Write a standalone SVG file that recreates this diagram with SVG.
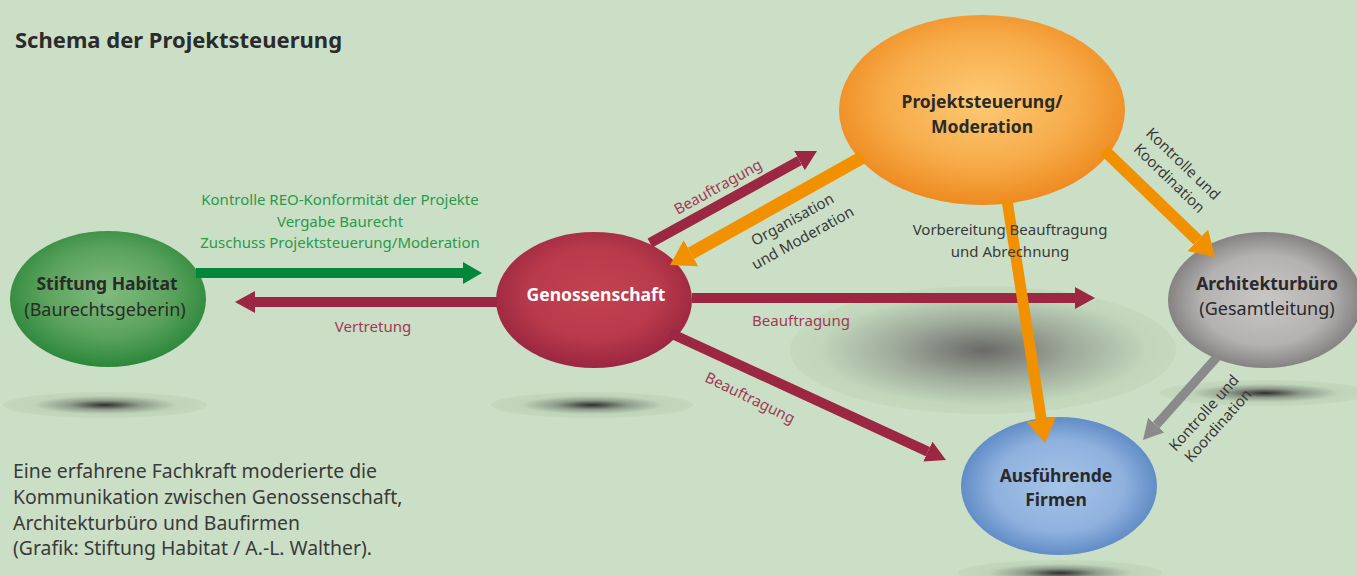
<svg xmlns="http://www.w3.org/2000/svg" width="1357" height="576" viewBox="0 0 1357 576">
<defs>
<style>
text{font-family:"Noto Sans","Liberation Sans",Arial,sans-serif;}
.title{font-size:22px;font-weight:bold;fill:#2b2b2b;}
.body{font-size:19.4px;fill:#3a3a3a;}
.nb{font-size:17.5px;font-weight:bold;fill:#2a2a2a;text-anchor:middle;}
.nr{font-size:18px;fill:#2a2a2a;text-anchor:middle;}
.lbl{font-size:15px;fill:#3a3a3a;text-anchor:middle;}
.lm{font-size:15px;fill:#a13a55;text-anchor:middle;}
.lg{font-size:15px;fill:#2a9a4a;text-anchor:middle;}
.c-m{stroke:#9b2743;stroke-width:10;fill:none;}
.c-g{stroke:#00873a;stroke-width:10;fill:none;}
.c-o{stroke:#f29100;stroke-width:12;fill:none;}
.c-y{stroke:#8a8a8a;stroke-width:9;fill:none;}
</style>
<radialGradient id="gGreen" cx="50%" cy="45%" r="55%"><stop offset="0" stop-color="#80bb7f"/><stop offset="0.6" stop-color="#5aa25c"/><stop offset="1" stop-color="#2c873a"/></radialGradient>
<radialGradient id="gRed" cx="50%" cy="45%" r="55%"><stop offset="0" stop-color="#c2424f"/><stop offset="0.6" stop-color="#b93a4b"/><stop offset="1" stop-color="#9a2640"/></radialGradient>
<radialGradient id="gOrange" cx="50%" cy="45%" r="55%"><stop offset="0" stop-color="#fdca76"/><stop offset="0.6" stop-color="#f7ac4a"/><stop offset="1" stop-color="#ee8a20"/></radialGradient>
<radialGradient id="gGray" cx="50%" cy="50%" r="55%"><stop offset="0" stop-color="#c8c7c6"/><stop offset="0.6" stop-color="#b3b2b1"/><stop offset="1" stop-color="#787675"/></radialGradient>
<radialGradient id="gBlue" cx="50%" cy="50%" r="55%"><stop offset="0" stop-color="#a6c4e8"/><stop offset="0.6" stop-color="#8fb1de"/><stop offset="1" stop-color="#5582c0"/></radialGradient>
<radialGradient id="gShadow" cx="50%" cy="50%" r="50%"><stop offset="0" stop-color="#2e2e2e"/><stop offset="0.35" stop-color="#8e9c8b"/><stop offset="0.7" stop-color="#bfd4b9"/><stop offset="1" stop-color="#c3d8bd"/></radialGradient>
<radialGradient id="gBig" cx="50%" cy="50%" r="50%"><stop offset="0" stop-color="#6a6a67"/><stop offset="0.45" stop-color="#9ea99a"/><stop offset="0.85" stop-color="#c1d6bb"/><stop offset="1" stop-color="#c4d9be"/></radialGradient>
<marker id="aM" markerUnits="userSpaceOnUse" markerWidth="20" markerHeight="22" viewBox="0 0 20 22" refX="0" refY="11" orient="auto"><path d="M0,0 L20,11 L0,22 z" fill="#9b2743"/></marker>
<marker id="aG" markerUnits="userSpaceOnUse" markerWidth="19" markerHeight="22" viewBox="0 0 19 22" refX="0" refY="11" orient="auto"><path d="M0,0 L19,11 L0,22 z" fill="#00873a"/></marker>
<marker id="aO" markerUnits="userSpaceOnUse" markerWidth="24" markerHeight="30" viewBox="0 0 24 30" refX="0" refY="15" orient="auto"><path d="M0,0 L24,15 L0,30 z" fill="#f29100"/></marker>
<marker id="aY" markerUnits="userSpaceOnUse" markerWidth="20" markerHeight="22" viewBox="0 0 20 22" refX="0" refY="11" orient="auto"><path d="M0,0 L20,11 L0,22 z" fill="#8a8a8a"/></marker>
</defs>
<rect width="1357" height="576" fill="#cbdfc6"/>
<text class="title" x="15" y="48">Schema der Projektsteuerung</text>
<g id="shadows">
<ellipse cx="983" cy="350" rx="193" ry="64" fill="url(#gBig)"/>
<ellipse cx="105" cy="405" rx="102" ry="13" fill="url(#gShadow)"/>
<ellipse cx="592" cy="405" rx="101" ry="13" fill="url(#gShadow)"/>
<ellipse cx="1265" cy="393" rx="105" ry="13" fill="url(#gShadow)"/>
<ellipse cx="1060" cy="573" rx="102" ry="13" fill="url(#gShadow)"/>
</g>
<g id="node-stiftung">
<ellipse cx="108" cy="299" rx="98" ry="68" fill="url(#gGreen)"/>
<text class="nb" x="107" y="290">Stiftung Habitat</text>
<text class="nr" x="105" y="316">(Baurechtsgeberin)</text>
</g>
<g id="node-genossenschaft">
<ellipse cx="594" cy="300" rx="98" ry="68" fill="url(#gRed)"/>
<text class="nb" x="596" y="301" style="fill:#ffffff">Genossenschaft</text>
</g>
<g id="node-projektsteuerung">
<ellipse cx="982" cy="110" rx="143" ry="95" fill="url(#gOrange)"/>
<text class="nb" x="982" y="108">Projektsteuerung/</text>
<text class="nb" x="982" y="133">Moderation</text>
</g>
<g id="node-architektur">
<ellipse cx="1265" cy="300" rx="97" ry="68" fill="url(#gGray)"/>
<text class="nb" x="1267" y="290">Architekturbüro</text>
<text class="nr" x="1267" y="315">(Gesamtleitung)</text>
</g>
<g id="node-firmen">
<ellipse cx="1059" cy="486" rx="98" ry="69" fill="url(#gBlue)"/>
<text class="nb" x="1056" y="482">Ausführende</text>
<text class="nb" x="1056" y="506">Firmen</text>
</g>
<g id="connectors">
<line class="c-g" x1="196" y1="273" x2="463" y2="273" marker-end="url(#aG)"/>
<line class="c-m" x1="497" y1="302" x2="255" y2="302" marker-end="url(#aM)"/>
<line class="c-m" x1="692" y1="298" x2="1075" y2="298" marker-end="url(#aM)"/>
<line class="c-m" x1="670" y1="333" x2="927.8" y2="451.6" marker-end="url(#aM)"/>
<line class="c-m" x1="650" y1="243" x2="799.5" y2="160.6" marker-end="url(#aM)"/>
<line class="c-y" x1="1217" y1="357" x2="1156.3" y2="425.1" marker-end="url(#aY)"/>
<line class="c-o" x1="863" y1="157" x2="691" y2="253.3" marker-end="url(#aO)" style="stroke-width:13"/>
<line class="c-o" x1="1104" y1="150" x2="1197.7" y2="240.3" marker-end="url(#aO)"/>
<line class="c-o" x1="1007" y1="200" x2="1041.3" y2="419.3" marker-end="url(#aO)" style="stroke-width:11"/>
</g>
<g id="labels">
<text class="lg" x="340" y="205">Kontrolle REO-Konformität der Projekte</text>
<text class="lg" x="340" y="227">Vergabe Baurecht</text>
<text class="lg" x="340" y="248">Zuschuss Projektsteuerung/Moderation</text>
<text class="lm" x="373" y="332">Vertretung</text>
<text class="lm" x="801" y="326">Beauftragung</text>
<text class="lm" transform="translate(718,187) rotate(-29)" x="0" y="5">Beauftragung</text>
<text class="lm" transform="translate(750,398) rotate(26)" x="0" y="5">Beauftragung</text>
<g transform="translate(795,224) rotate(-29)"><text class="lbl" x="0" y="0">Organisation</text><text class="lbl" x="0" y="21">und Moderation</text></g>
<text class="lbl" x="1010" y="235">Vorbereitung Beauftragung</text>
<text class="lbl" x="1010" y="257">und Abrechnung</text>
<g transform="translate(1183,164) rotate(44)"><text class="lbl" x="0" y="5">Kontrolle und</text><text class="lbl" x="0" y="25">Koordination</text></g>
<g transform="translate(1204,413) rotate(-48)"><text class="lbl" x="0" y="5">Kontrolle und</text><text class="lbl" x="0" y="24">Koordination</text></g>
</g>
<g id="caption">
<text class="body" x="13" y="478">Eine erfahrene Fachkraft moderierte die</text>
<text class="body" x="13" y="504">Kommunikation zwischen Genossenschaft,</text>
<text class="body" x="13" y="530">Architekturbüro und Baufirmen</text>
<text class="body" x="13" y="555">(Grafik: Stiftung Habitat / A.-L. Walther).</text>
</g>
</svg>
